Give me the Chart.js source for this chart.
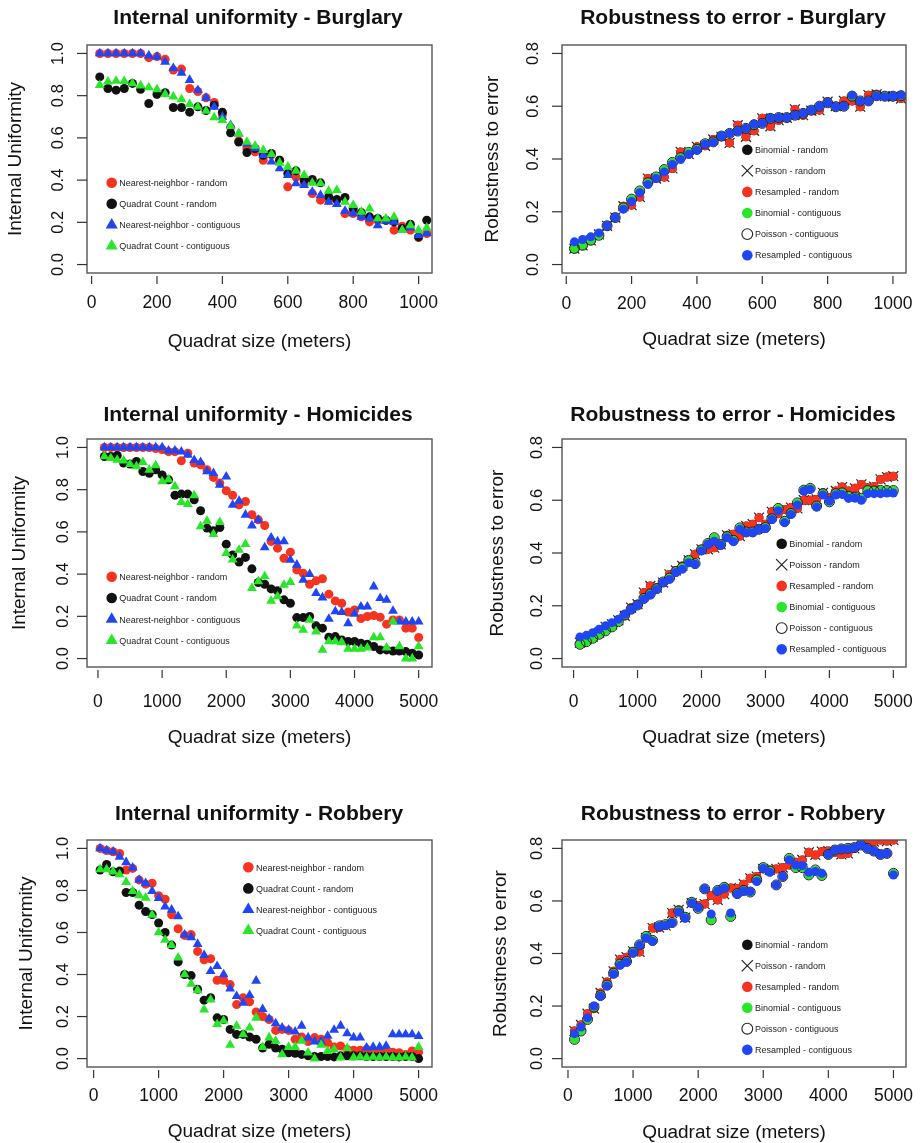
<!DOCTYPE html>
<html>
<head>
<meta charset="utf-8">
<title>Internal uniformity and robustness to error by quadrat size</title>
<script src="https://cdn.jsdelivr.net/npm/chart.js@4.4.1/dist/chart.umd.min.js"></script>
<style>
  body { margin: 0; background: #fff; }
  #page { position: relative; width: 920px; height: 1143px; overflow: hidden; }
  #page canvas { position: absolute; }
</style>
</head>
<body>
<div id="page"></div>
<script>
// quadrat sizes (meters)
const burgSizes = [25,50,75,100,125,150,175,200,225,250,275,300,325,350,375,400,425,450,475,500,
  525,550,575,600,625,650,675,700,725,750,775,800,825,850,875,900,925,950,975,1000,1025];
const citySizes = [100,200,300,400,500,600,700,800,900,1000,1100,1200,1300,1400,1500,1600,1700,1800,1900,2000,
  2100,2200,2300,2400,2500,2600,2700,2800,2900,3000,3100,3200,3300,3400,3500,3600,3700,3800,3900,4000,
  4100,4200,4300,4400,4500,4600,4700,4800,4900,5000];

// tick labels
const burgTicks = [0, 200, 400, 600, 800, 1000];
const cityTicks = [0, 1000, 2000, 3000, 4000, 5000];
const iuTicks = [0, 0.2, 0.4, 0.6, 0.8, 1.0];
const reTicks = [0, 0.2, 0.4, 0.6, 0.8];

// series names
const iuLabels = ['Nearest-neighbor - random', 'Quadrat Count - random', 'Nearest-neighbor - contiguous', 'Quadrat Count - contiguous'];
const reLabels = ['Binomial - random', 'Poisson - random', 'Resampled - random', 'Binomial - contiguous', 'Poisson - contiguous', 'Resampled - contiguous'];

// Burglary - internal uniformity
const burgNNRand = [1,1,1,1,1,1,0.98,0.985,0.972,0.921,0.926,0.834,0.82,0.79,0.768,0.71,0.65,0.585,0.55,0.534,
  0.494,0.52,0.494,0.368,0.415,0.387,0.336,0.305,0.305,0.305,0.242,0.242,0.226,0.202,0.21,0.21,0.163,0.182,0.163,0.128,0.147];
const burgQCRand = [0.889,0.834,0.826,0.834,0.858,0.83,0.763,0.806,0.814,0.744,0.744,0.722,0.747,0.73,0.755,0.722,0.624,0.58,0.531,0.55,
  0.518,0.526,0.494,0.431,0.444,0.40,0.403,0.387,0.321,0.308,0.318,0.265,0.246,0.226,0.218,0.21,0.202,0.171,0.191,0.131,0.21];
const burgNNCont = [1,1,1,1,1,1,0.99,0.984,0.96,0.93,0.908,0.874,0.826,0.79,0.747,0.70,0.66,0.62,0.573,0.55,
  0.518,0.487,0.455,0.423,0.384,0.376,0.344,0.329,0.297,0.286,0.254,0.242,0.226,0.218,0.186,0.207,0.202,0.163,0.175,0.139,0.147];
const burgQCCont = [0.85,0.866,0.87,0.869,0.858,0.848,0.839,0.83,0.807,0.795,0.782,0.76,0.747,0.728,0.697,0.684,0.656,0.62,0.581,0.562,
  0.542,0.523,0.482,0.463,0.444,0.423,0.387,0.384,0.349,0.352,0.297,0.281,0.25,0.265,0.218,0.218,0.226,0.163,0.186,0.163,0.174];

// Burglary - robustness to error
const burgRand = [0.06,0.073,0.092,0.114,0.147,0.178,0.221,0.225,0.256,0.326,0.326,0.332,0.364,0.427,0.418,0.446,0.45,0.474,0.484,0.461,
  0.528,0.484,0.507,0.554,0.524,0.547,0.556,0.588,0.566,0.583,0.585,0.617,0.60,0.62,0.62,0.598,0.642,0.645,0.638,0.636,0.629];
const burgContGreen = [0.061,0.073,0.092,0.111,0.147,0.178,0.215,0.248,0.279,0.31,0.332,0.36,0.387,0.405,0.425,0.437,0.458,0.465,0.487,0.497,
  0.506,0.516,0.53,0.535,0.554,0.557,0.557,0.566,0.573,0.585,0.60,0.613,0.598,0.60,0.638,0.62,0.62,0.64,0.638,0.638,0.64];
const burgContBlue = [0.086,0.095,0.105,0.12,0.147,0.178,0.21,0.239,0.272,0.303,0.326,0.351,0.379,0.398,0.418,0.433,0.456,0.463,0.487,0.497,
  0.506,0.516,0.532,0.535,0.554,0.557,0.557,0.566,0.573,0.585,0.60,0.613,0.598,0.60,0.642,0.62,0.62,0.638,0.636,0.638,0.642];

// Homicides - internal uniformity
const homNNRand = [1,1,1,1,1,1,1,1,0.995,0.99,0.98,0.98,0.937,0.973,0.926,0.918,0.894,0.858,0.831,0.795,
  0.773,0.728,0.744,0.681,0.657,0.63,0.555,0.523,0.475,0.504,0.42,0.404,0.352,0.368,0.378,0.305,0.273,0.262,0.22,0.23,
  0.19,0.199,0.204,0.196,0.163,0.183,0.183,0.144,0.144,0.10];
const homQCRand = [0.957,0.957,0.962,0.926,0.921,0.934,0.886,0.878,0.894,0.87,0.847,0.773,0.779,0.779,0.752,0.70,0.618,0.605,0.621,0.542,
  0.491,0.457,0.479,0.425,0.36,0.352,0.33,0.321,0.278,0.262,0.194,0.194,0.199,0.155,0.144,0.101,0.104,0.088,0.081,0.081,
  0.073,0.068,0.057,0.041,0.041,0.036,0.036,0.033,0.025,0.017];
const homNNCont = [1,1,1,1,1,1,1,1,1,1,0.985,0.985,0.98,0.965,0.94,0.93,0.886,0.878,0.823,0.862,
  0.728,0.747,0.681,0.63,0.657,0.526,0.573,0.555,0.555,0.467,0.444,0.373,0.40,0.31,0.289,0.188,0.223,0.22,0.167,0.212,
  0.246,0.246,0.341,0.286,0.278,0.226,0.175,0.175,0.175,0.175];
const homQCCont = [0.957,0.949,0.941,0.937,0.921,0.91,0.93,0.894,0.915,0.839,0.847,0.815,0.741,0.731,0.773,0.626,0.652,0.589,0.646,0.499,
  0.468,0.515,0.542,0.333,0.365,0.389,0.273,0.294,0.349,0.362,0.156,0.136,0.183,0.128,0.041,0.081,0.081,0.077,0.046,0.046,
  0.046,0.052,0.10,0.10,0.052,0.175,0.057,0.0,0.0,0.057];

// Homicides - robustness to error
const homRand = [0.06,0.073,0.083,0.098,0.12,0.13,0.145,0.162,0.193,0.206,0.25,0.275,0.269,0.288,0.319,0.334,0.351,0.372,0.395,0.414,
  0.414,0.42,0.433,0.467,0.471,0.464,0.502,0.509,0.534,0.509,0.556,0.549,0.565,0.572,0.569,0.60,0.60,0.603,0.628,0.609,
  0.635,0.65,0.635,0.645,0.66,0.647,0.652,0.679,0.688,0.691];
const homContGreen = [0.054,0.064,0.077,0.092,0.105,0.12,0.14,0.165,0.187,0.203,0.228,0.245,0.265,0.29,0.305,0.33,0.345,0.372,0.36,0.412,
  0.436,0.458,0.432,0.462,0.448,0.495,0.48,0.48,0.49,0.497,0.53,0.569,0.52,0.55,0.59,0.638,0.645,0.578,0.625,0.594,
  0.625,0.628,0.615,0.612,0.607,0.637,0.635,0.637,0.637,0.637];
const homContBlue = [0.082,0.088,0.098,0.111,0.124,0.136,0.149,0.168,0.187,0.203,0.225,0.241,0.262,0.288,0.30,0.326,0.338,0.363,0.357,0.408,
  0.433,0.445,0.43,0.458,0.443,0.49,0.477,0.477,0.49,0.493,0.527,0.56,0.515,0.546,0.582,0.635,0.641,0.574,0.62,0.597,
  0.62,0.622,0.607,0.609,0.60,0.625,0.625,0.625,0.627,0.627];

// Robbery - internal uniformity
const robNNRand = [1.0,0.99,0.984,0.976,0.897,0.905,0.85,0.83,0.834,0.775,0.758,0.684,0.618,0.586,0.59,0.51,0.47,0.475,0.373,0.373,
  0.352,0.257,0.29,0.27,0.222,0.2,0.186,0.134,0.139,0.134,0.092,0.103,0.081,0.10,0.092,0.076,0.055,0.06,0.044,0.04,
  0.04,0.044,0.036,0.036,0.033,0.03,0.028,0.02,0.036,0.03];
const robQCRand = [0.897,0.924,0.889,0.892,0.79,0.79,0.73,0.70,0.685,0.645,0.60,0.54,0.46,0.40,0.395,0.33,0.278,0.29,0.194,0.186,
  0.139,0.115,0.115,0.103,0.092,0.05,0.068,0.05,0.045,0.028,0.025,0.02,0.013,0.01,0.01,0.01,0.008,0.013,0.013,0.013,
  0.013,0.01,0.01,0.01,0.01,0.01,0.008,0.01,0.01,0.0];
const robNNCont = [1.0,0.99,0.984,0.96,0.934,0.908,0.85,0.834,0.797,0.763,0.723,0.708,0.676,0.59,0.577,0.545,0.492,0.416,0.44,0.40,
  0.333,0.297,0.265,0.302,0.37,0.235,0.19,0.167,0.147,0.136,0.128,0.156,0.10,0.081,0.08,0.108,0.136,0.156,0.12,0.10,
  0.10,0.052,0.055,0.055,0.06,0.115,0.115,0.115,0.115,0.107];
const robQCCont = [0.9,0.9,0.89,0.876,0.84,0.797,0.777,0.765,0.684,0.60,0.565,0.54,0.48,0.40,0.355,0.325,0.233,0.28,0.164,0.18,
  0.065,0.155,0.115,0.147,0.194,0.055,0.10,0.084,0.02,0.055,0.055,0.084,0.028,0.0,0.065,0.036,0.044,0.005,0.05,0.005,
  0.008,0.005,0.008,0.005,0.008,0.005,0.005,0.008,0.005,0.055];

// Robbery - robustness to error
const robRand = [0.105,0.128,0.171,0.19,0.25,0.292,0.332,0.377,0.386,0.408,0.406,0.459,0.497,0.499,0.507,0.554,0.566,0.537,0.592,0.583,
  0.588,0.621,0.604,0.626,0.649,0.646,0.664,0.686,0.693,0.722,0.718,0.722,0.727,0.737,0.747,0.756,0.785,0.775,0.788,0.79,
  0.785,0.777,0.781,0.80,0.819,0.823,0.826,0.832,0.828,0.832];
const robContGreen = [0.073,0.105,0.149,0.196,0.24,0.28,0.325,0.36,0.37,0.405,0.433,0.465,0.45,0.505,0.51,0.518,0.562,0.538,0.595,0.572,
  0.646,0.528,0.64,0.652,0.541,0.628,0.64,0.634,0.68,0.727,0.714,0.661,0.693,0.762,0.727,0.727,0.699,0.718,0.697,0.777,
  0.794,0.798,0.80,0.803,0.813,0.80,0.79,0.777,0.781,0.705];
const robContBlue = [0.095,0.12,0.155,0.20,0.238,0.276,0.322,0.355,0.368,0.402,0.431,0.459,0.446,0.503,0.507,0.516,0.558,0.535,0.592,0.575,
  0.646,0.55,0.638,0.648,0.554,0.626,0.638,0.636,0.674,0.724,0.709,0.661,0.693,0.756,0.737,0.735,0.709,0.712,0.705,0.777,
  0.794,0.798,0.798,0.803,0.813,0.80,0.79,0.777,0.781,0.699];

const FONT = '"Liberation Sans", Arial, Helvetica, sans-serif';
const RED = '#f5331f', BLK = '#111111', BLU = '#1f45f5', GRN = '#28e628';

// marker styles, R-like pch 16 / 17 / 4 / 1
const iuStyle = [
  { shape: 'circle', color: RED }, { shape: 'circle', color: BLK },
  { shape: 'triangle', color: BLU }, { shape: 'triangle', color: GRN }
];
const reStyle = [
  { shape: 'circle', color: BLK }, { shape: 'cross', color: '#222' }, { shape: 'circle', color: RED },
  { shape: 'circle', color: GRN }, { shape: 'ring', color: '#222' }, { shape: 'circle', color: BLU }
];

// layout per panel (page coordinates)
const panels = [
  { cv: [0, 0, 460, 380], pad: { left: 87, right: 28, top: 45, bottom: 107 }, xr: [-14, 1041], yr: [-0.04, 1.04],
    xt: burgTicks, yt: iuTicks, xs: burgSizes, ys: [burgNNRand, burgQCRand, burgNNCont, burgQCCont],
    labels: iuLabels, styles: iuStyle, title: 'Internal uniformity - Burglary', ytitle: 'Internal Uniformity',
    tx: 258, tb: 24.3, xlb: 308.3, xtb: 346.7, ylb: 63.3, ytb: 20.7, leg: [111.7, 182.7, 21.1] },
  { cv: [460, 0, 460, 380], pad: { left: 102, right: 14, top: 45, bottom: 107 }, xr: [-13, 1040], yr: [-0.032, 0.832],
    xt: burgTicks, yt: reTicks, xs: burgSizes, ys: [burgRand, burgRand, burgRand, burgContGreen, burgContGreen, burgContBlue],
    labels: reLabels, styles: reStyle, title: 'Robustness to error - Burglary', ytitle: 'Robustness to error',
    tx: 733, tb: 24.3, xlb: 309, xtb: 345, ylb: 538.3, ytb: 498.3, leg: [747.3, 149.7, 21.1] },
  { cv: [0, 380, 460, 380], pad: { left: 87, right: 28, top: 59, bottom: 93 }, xr: [-171, 5208], yr: [-0.04, 1.04],
    xt: cityTicks, yt: iuTicks, xs: citySizes, ys: [homNNRand, homQCRand, homNNCont, homQCCont],
    labels: iuLabels, styles: iuStyle, title: 'Internal uniformity - Homicides', ytitle: 'Internal Uniformity',
    tx: 258, tb: 420.7, xlb: 706.7, xtb: 742.7, ylb: 68.3, ytb: 25, leg: [111.7, 576.7, 21.3] },
  { cv: [460, 380, 460, 380], pad: { left: 102, right: 14, top: 59, bottom: 93 }, xr: [-181, 5198], yr: [-0.032, 0.832],
    xt: cityTicks, yt: reTicks, xs: citySizes, ys: [homRand, homRand, homRand, homContGreen, homContGreen, homContBlue],
    labels: reLabels, styles: reStyle, title: 'Robustness to error - Homicides', ytitle: 'Robustness to error',
    tx: 733, tb: 420.7, xlb: 706.7, xtb: 742.7, ylb: 541.7, ytb: 502.7, leg: [781.7, 543.7, 21.1] },
  { cv: [0, 760, 460, 383], pad: { left: 87, right: 28, top: 80, bottom: 76 }, xr: [-102, 5206], yr: [-0.04, 1.04],
    xt: cityTicks, yt: iuTicks, xs: citySizes, ys: [robNNRand, robQCRand, robNNCont, robQCCont],
    labels: iuLabels, styles: iuStyle, title: 'Internal uniformity - Robbery', ytitle: 'Internal Uniformity',
    tx: 259, tb: 820.3, xlb: 1101.3, xtb: 1137, ylb: 68.3, ytb: 31.7, leg: [248.3, 867.3, 21.1] },
  { cv: [460, 760, 460, 383], pad: { left: 102, right: 14, top: 80, bottom: 76 }, xr: [-92, 5193], yr: [-0.032, 0.832],
    xt: cityTicks, yt: reTicks, xs: citySizes, ys: [robRand, robRand, robRand, robContGreen, robContGreen, robContBlue],
    labels: reLabels, styles: reStyle, title: 'Robustness to error - Robbery', ytitle: 'Robustness to error',
    tx: 733, tb: 820.3, xlb: 1101.3, xtb: 1138, ylb: 541.7, ytb: 506, leg: [747.3, 944.7, 21] }
];

function dataset(label, st, xs, ys, i, n){
  const d = { label, data: xs.map((x, k) => ({ x, y: ys[k] })), order: n - i, showLine: false, pointHoverRadius: 0 };
  if (st.shape === 'circle') Object.assign(d, { pointStyle: 'circle', pointRadius: 4.5, pointBackgroundColor: st.color, pointBorderWidth: 0 });
  if (st.shape === 'triangle') Object.assign(d, { pointStyle: 'triangle', pointRadius: 5.7, pointBackgroundColor: st.color, pointBorderWidth: 0 });
  if (st.shape === 'cross') Object.assign(d, { pointStyle: 'crossRot', pointRadius: 7, pointBorderColor: st.color, pointBorderWidth: 1.2 });
  if (st.shape === 'ring') Object.assign(d, { pointStyle: 'circle', pointRadius: 5, pointBackgroundColor: 'rgba(0,0,0,0)', pointBorderColor: st.color, pointBorderWidth: 1 });
  return d;
}

function legendMark(ctx, st, cx, cy){
  ctx.beginPath();
  if (st.shape === 'circle'){
    ctx.arc(cx, cy, 5.3, 0, Math.PI * 2); ctx.fillStyle = st.color; ctx.fill();
  } else if (st.shape === 'triangle'){
    const r = 7;
    ctx.moveTo(cx, cy - r); ctx.lineTo(cx + r * 0.866, cy + r * 0.5); ctx.lineTo(cx - r * 0.866, cy + r * 0.5);
    ctx.closePath(); ctx.fillStyle = st.color; ctx.fill();
  } else if (st.shape === 'cross'){
    const d = 5.6;
    ctx.moveTo(cx - d, cy - d); ctx.lineTo(cx + d, cy + d); ctx.moveTo(cx + d, cy - d); ctx.lineTo(cx - d, cy + d);
    ctx.strokeStyle = st.color; ctx.lineWidth = 1.2; ctx.stroke();
  } else {
    ctx.arc(cx, cy, 5.4, 0, Math.PI * 2); ctx.strokeStyle = st.color; ctx.lineWidth = 1.1; ctx.stroke();
  }
}

// R-style frame: box, outward ticks, rotated y labels, titles, legend
function rFrame(p){
  return {
    id: 'rFrame',
    afterDatasetsDraw(chart){
      const { ctx, chartArea: a, scales: { x, y } } = chart;
      const ox = p.cv[0], oy = p.cv[1];
      ctx.save();
      ctx.strokeStyle = '#555'; ctx.lineWidth = 1.4;
      ctx.strokeRect(a.left, a.top, a.right - a.left, a.bottom - a.top);

      ctx.strokeStyle = '#333'; ctx.lineWidth = 1.2; ctx.fillStyle = '#111';
      ctx.textAlign = 'center'; ctx.textBaseline = 'alphabetic';
      ctx.font = '17.5px ' + FONT;
      p.xt.forEach(v => {
        const px = x.getPixelForValue(v);
        ctx.beginPath(); ctx.moveTo(px, a.bottom + 3); ctx.lineTo(px, a.bottom + 11); ctx.stroke();
        ctx.fillText(String(v), px, p.xlb - oy);
      });
      ctx.font = '16.5px ' + FONT;
      p.yt.forEach(v => {
        const py = y.getPixelForValue(v);
        ctx.beginPath(); ctx.moveTo(a.left - 10, py); ctx.lineTo(a.left, py); ctx.stroke();
        ctx.save(); ctx.translate(p.ylb - ox, py); ctx.rotate(-Math.PI / 2); ctx.fillText(v.toFixed(1), 0, 0); ctx.restore();
      });

      ctx.font = 'bold 21px ' + FONT;
      ctx.fillText(p.title, p.tx - ox, p.tb - oy);
      ctx.font = '19px ' + FONT;
      ctx.fillText('Quadrat size (meters)', (a.left + a.right) / 2, p.xtb - oy);
      ctx.save(); ctx.translate(p.ytb - ox, (a.top + a.bottom) / 2); ctx.rotate(-Math.PI / 2);
      ctx.fillText(p.ytitle, 0, 0); ctx.restore();

      ctx.font = '9px ' + FONT; ctx.textAlign = 'left';
      p.labels.forEach((lab, k) => {
        const cx = p.leg[0] - ox, cy = p.leg[1] + k * p.leg[2] - oy;
        legendMark(ctx, p.styles[k], cx, cy);
        ctx.fillStyle = '#222';
        ctx.fillText(lab, cx + 7.6, cy + 3.2);
      });
      ctx.restore();
    }
  };
}

const page = document.getElementById('page');
panels.forEach(p => {
  const cv = document.createElement('canvas');
  cv.width = p.cv[2]; cv.height = p.cv[3];
  cv.style.left = p.cv[0] + 'px'; cv.style.top = p.cv[1] + 'px';
  cv.style.width = p.cv[2] + 'px'; cv.style.height = p.cv[3] + 'px';
  page.appendChild(cv);
  const n = p.ys.length;
  new Chart(cv.getContext('2d'), {
    type: 'scatter',
    data: { datasets: p.ys.map((ys, i) => dataset(p.labels[i], p.styles[i], p.xs, ys, i, n)) },
    options: {
      responsive: false, animation: false, events: [],
      layout: { autoPadding: false, padding: p.pad },
      plugins: { legend: { display: false }, tooltip: { enabled: false } },
      scales: {
        x: { type: 'linear', display: false, min: p.xr[0], max: p.xr[1] },
        y: { type: 'linear', display: false, min: p.yr[0], max: p.yr[1] }
      }
    },
    plugins: [rFrame(p)]
  });
});
</script>
</body>
</html>
